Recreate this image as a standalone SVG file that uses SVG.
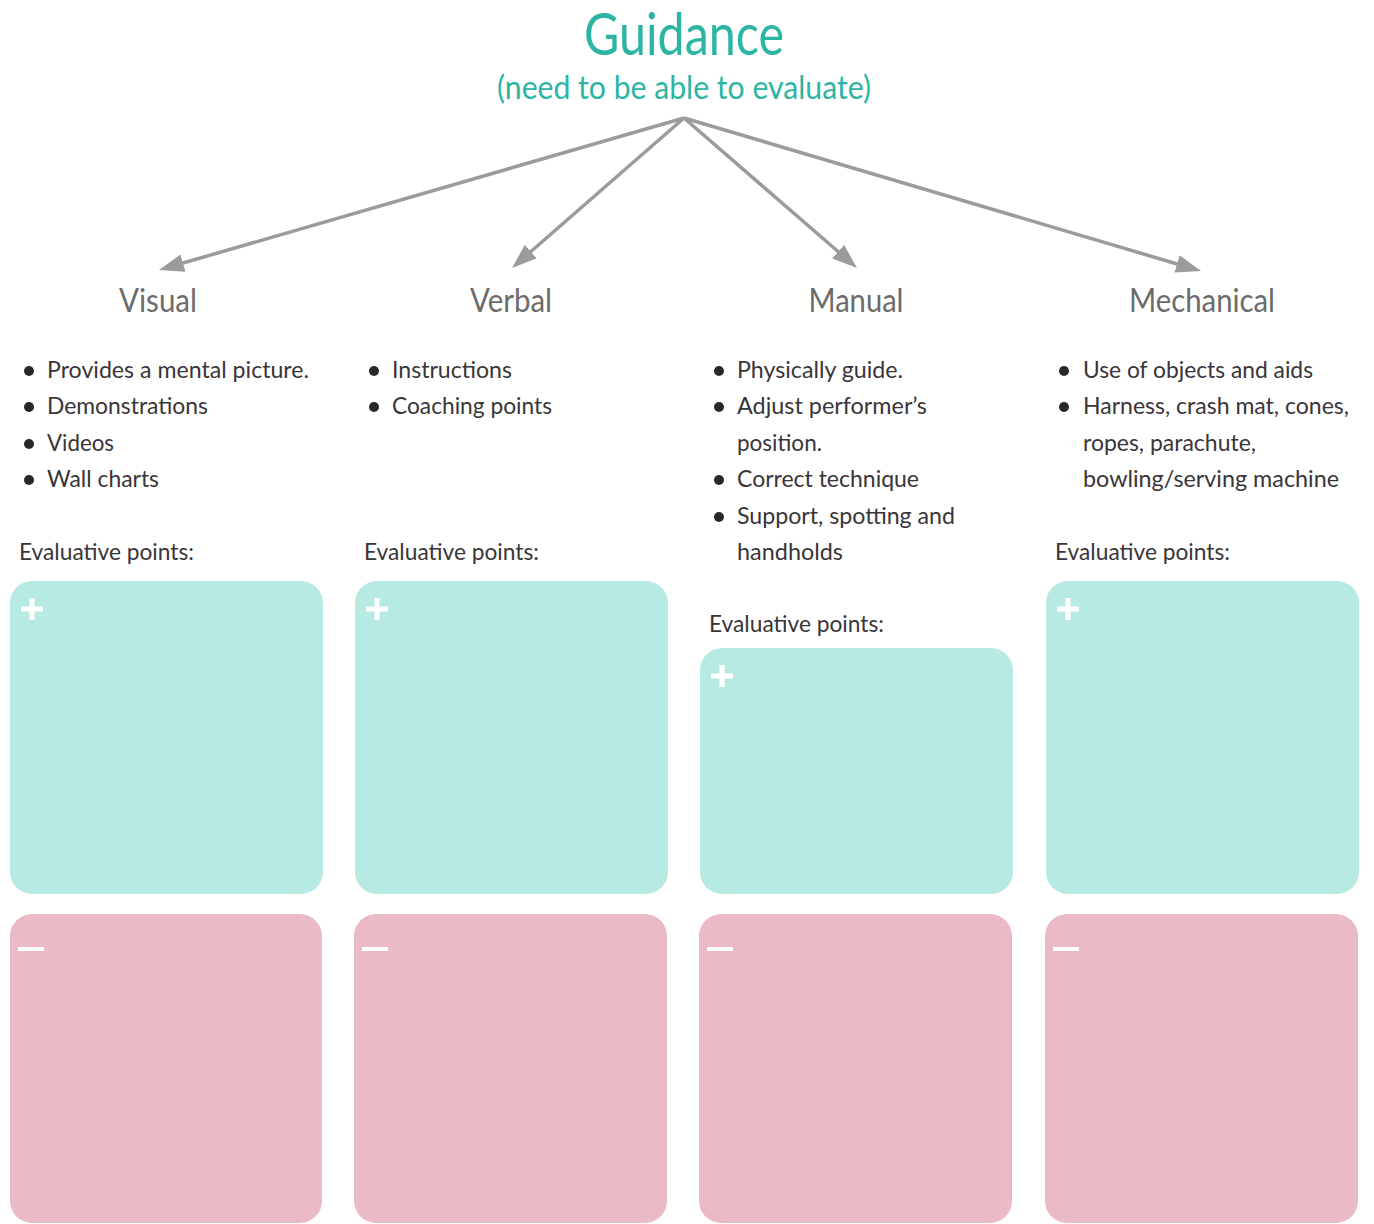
<svg xmlns="http://www.w3.org/2000/svg" xmlns:xlink="http://www.w3.org/1999/xlink" width="1374" height="1224" viewBox="0 0 1374 1224">
  <style>
    text { font-family: Lato, "Open Sans", "Liberation Sans", sans-serif; }
    .title { fill: #2bb5a2; font-size: 58px; }
    .sub { fill: #2bb5a2; font-size: 33px; }
    .head { fill: #6b6b6b; font-size: 32px; text-anchor: middle; }
    .item { fill: #3a3538; font-size: 23px; }
    .eval { fill: #3a3538; font-size: 23px; }
    .dot { fill: #2a2629; }
    .plus-box { fill: #b6eae3; }
    .minus-box { fill: #eabbc5; }
    .conn { stroke: #9b9b9b; stroke-width: 3.5; fill: none; marker-end: url(#arrow); }
  </style>
  <defs>
    <marker id="arrow" markerUnits="userSpaceOnUse" markerWidth="26" markerHeight="20" refX="1" refY="9" orient="auto">
      <path d="M0,0 L25,9 L0,18 z" fill="#9b9b9b"/>
    </marker>
    <g id="plus">
      <rect x="11" y="25.5" width="22" height="5" fill="#ffffff"/>
      <rect x="19.5" y="17" width="5" height="22" fill="#ffffff"/>
    </g>
    <g id="minus">
      <rect x="8" y="33" width="26" height="4" fill="#ffffff"/>
    </g>
  </defs>

  <rect width="1374" height="1224" fill="#ffffff"/>

  <!-- root -->
  <g id="guidance">
    <text class="title" x="684" y="55" text-anchor="middle" textLength="200" lengthAdjust="spacingAndGlyphs">Guidance</text>
    <text class="sub" x="684" y="99" text-anchor="middle" textLength="374" lengthAdjust="spacingAndGlyphs">(need to be able to evaluate)</text>
  </g>

  <!-- connectors -->
  <g id="connectors">
    <line class="conn" x1="684" y1="118" x2="182" y2="263.3"/>
    <line class="conn" x1="684" y1="118" x2="530.1" y2="252.2"/>
    <line class="conn" x1="684" y1="118" x2="838.9" y2="252.3"/>
    <line class="conn" x1="684" y1="118" x2="1178" y2="264.2"/>
  </g>

  <!-- Visual -->
  <g id="visual">
    <text class="head" x="158" y="312" textLength="78" lengthAdjust="spacingAndGlyphs">Visual</text>
    <circle class="dot" cx="29" cy="371" r="5"/>
    <circle class="dot" cx="29" cy="407" r="5"/>
    <circle class="dot" cx="29" cy="444" r="5"/>
    <circle class="dot" cx="29" cy="480" r="5"/>
    <text class="item" x="47" y="378" textLength="262" lengthAdjust="spacingAndGlyphs">Provides a mental picture.</text>
    <text class="item" x="47" y="414" textLength="161" lengthAdjust="spacingAndGlyphs">Demonstrations</text>
    <text class="item" x="47" y="451" textLength="67" lengthAdjust="spacingAndGlyphs">Videos</text>
    <text class="item" x="47" y="487" textLength="112" lengthAdjust="spacingAndGlyphs">Wall charts</text>
    <text class="eval" x="19" y="560" textLength="175" lengthAdjust="spacingAndGlyphs">Evaluative points:</text>
    <rect class="plus-box" x="10" y="581" width="313" height="313" rx="22"/>
    <use xlink:href="#plus" href="#plus" transform="translate(10,581)"/>
    <rect class="minus-box" x="10" y="914" width="312" height="309" rx="22"/>
    <use xlink:href="#minus" href="#minus" transform="translate(10,914)"/>
  </g>

  <!-- Verbal -->
  <g id="verbal">
    <text class="head" x="511" y="312" textLength="82" lengthAdjust="spacingAndGlyphs">Verbal</text>
    <circle class="dot" cx="374" cy="371" r="5"/>
    <circle class="dot" cx="374" cy="407" r="5"/>
    <text class="item" x="392" y="378" textLength="120" lengthAdjust="spacingAndGlyphs">Instructions</text>
    <text class="item" x="392" y="414" textLength="160" lengthAdjust="spacingAndGlyphs">Coaching points</text>
    <text class="eval" x="364" y="560" textLength="175" lengthAdjust="spacingAndGlyphs">Evaluative points:</text>
    <rect class="plus-box" x="355" y="581" width="313" height="313" rx="22"/>
    <use xlink:href="#plus" href="#plus" transform="translate(355,581)"/>
    <rect class="minus-box" x="354" y="914" width="313" height="309" rx="22"/>
    <use xlink:href="#minus" href="#minus" transform="translate(354,914)"/>
  </g>

  <!-- Manual -->
  <g id="manual">
    <text class="head" x="856" y="312" textLength="95" lengthAdjust="spacingAndGlyphs">Manual</text>
    <circle class="dot" cx="719" cy="371" r="5"/>
    <circle class="dot" cx="719" cy="407" r="5"/>
    <circle class="dot" cx="719" cy="480" r="5"/>
    <circle class="dot" cx="719" cy="517" r="5"/>
    <text class="item" x="737" y="378" textLength="166" lengthAdjust="spacingAndGlyphs">Physically guide.</text>
    <text class="item" x="737" y="414" textLength="190" lengthAdjust="spacingAndGlyphs">Adjust performer’s</text>
    <text class="item" x="737" y="451" textLength="85" lengthAdjust="spacingAndGlyphs">position.</text>
    <text class="item" x="737" y="487" textLength="182" lengthAdjust="spacingAndGlyphs">Correct technique</text>
    <text class="item" x="737" y="524" textLength="218" lengthAdjust="spacingAndGlyphs">Support, spotting and</text>
    <text class="item" x="737" y="560" textLength="106" lengthAdjust="spacingAndGlyphs">handholds</text>
    <text class="eval" x="709" y="632" textLength="175" lengthAdjust="spacingAndGlyphs">Evaluative points:</text>
    <rect class="plus-box" x="700" y="648" width="313" height="246" rx="22"/>
    <use xlink:href="#plus" href="#plus" transform="translate(700,648)"/>
    <rect class="minus-box" x="699" y="914" width="313" height="309" rx="22"/>
    <use xlink:href="#minus" href="#minus" transform="translate(699,914)"/>
  </g>

  <!-- Mechanical -->
  <g id="mechanical">
    <text class="head" x="1202" y="312" textLength="146" lengthAdjust="spacingAndGlyphs">Mechanical</text>
    <circle class="dot" cx="1064" cy="371" r="5"/>
    <circle class="dot" cx="1064" cy="407" r="5"/>
    <text class="item" x="1083" y="378" textLength="230" lengthAdjust="spacingAndGlyphs">Use of objects and aids</text>
    <text class="item" x="1083" y="414" textLength="266" lengthAdjust="spacingAndGlyphs">Harness, crash mat, cones,</text>
    <text class="item" x="1083" y="451" textLength="173" lengthAdjust="spacingAndGlyphs">ropes, parachute,</text>
    <text class="item" x="1083" y="487" textLength="256" lengthAdjust="spacingAndGlyphs">bowling/serving machine</text>
    <text class="eval" x="1055" y="560" textLength="175" lengthAdjust="spacingAndGlyphs">Evaluative points:</text>
    <rect class="plus-box" x="1046" y="581" width="313" height="313" rx="22"/>
    <use xlink:href="#plus" href="#plus" transform="translate(1046,581)"/>
    <rect class="minus-box" x="1045" y="914" width="313" height="309" rx="22"/>
    <use xlink:href="#minus" href="#minus" transform="translate(1045,914)"/>
  </g>
</svg>
